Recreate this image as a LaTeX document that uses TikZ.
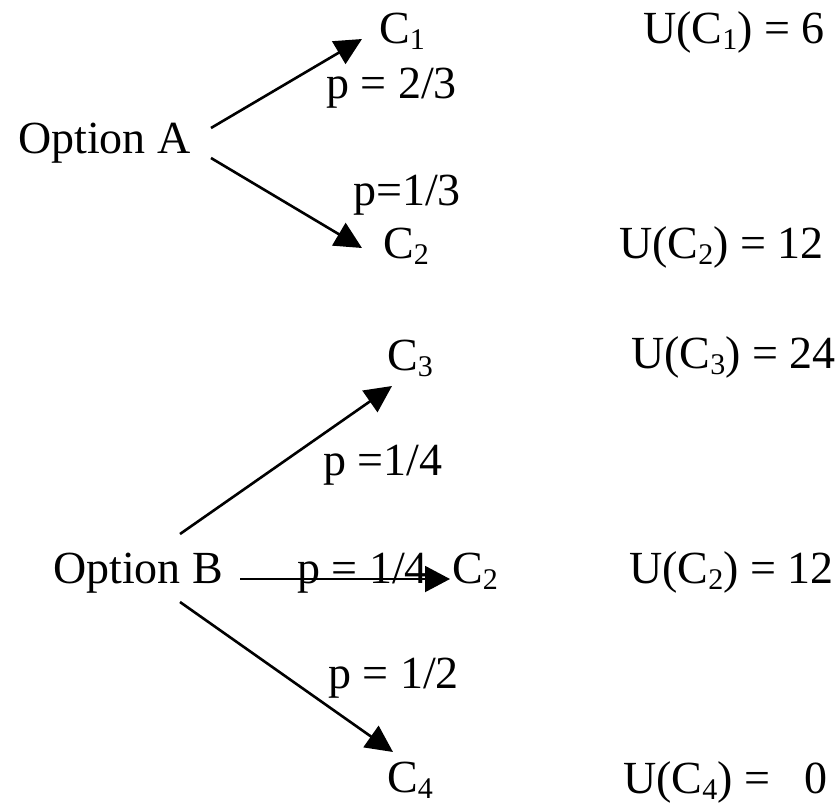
\documentclass[tikz,border=0pt]{standalone}
\usepackage{fontspec}
\setmainfont{Liberation Serif}
\usetikzlibrary{arrows.meta}
\newcommand{\sbs}[1]{\raisebox{-0.15em}{\fontsize{30}{30}\selectfont #1}}
\begin{document}
\begin{tikzpicture}[x=1pt,y=-1pt,
  txt/.style={anchor=base west, inner sep=0pt, font=\fontsize{46}{50}\selectfont},
  arr/.style={line width=2.6pt, -{Triangle[length=27pt,width=26pt]}}]
\useasboundingbox (0,0) rectangle (837,806);
% Option A
\node[txt] (optA) at (18,153) {Option A};
\node[txt] (c1) at (379,43) {C\sbs{1}};
\node[txt] (pA1) at (326,98) {p = 2/3};
\node[txt] (pA2) at (353,205) {p=1/3};
\node[txt] (c2a) at (383,258) {C\sbs{2}};
\node[txt] (u1) at (643,43) {U(C\sbs{1}) = 6};
\node[txt] (u2a) at (619,258) {U(C\sbs{2}) = 12};
\coordinate (a1s) at (211,128);
\coordinate (a1e) at (362,39);
\coordinate (a2s) at (211,158);
\coordinate (a2e) at (362,248);
\draw[arr] (a1s) -- (a1e);
\draw[arr] (a2s) -- (a2e);
% Option B
\node[txt] (optB) at (53,583) {Option B};
\node[txt] (c3) at (387,370) {C\sbs{3}};
\node[txt] (pB1) at (323,475) {p =1/4};
\node[txt] (pB2) at (297,583) {p = 1/4};
\node[txt] (c2b) at (452,583) {C\sbs{2}};
\node[txt] (pB3) at (328,688) {p = 1/2};
\node[txt] (c4) at (387,792) {C\sbs{4}};
\node[txt] (u3) at (631,368) {U(C\sbs{3}) = 24};
\node[txt] (u2b) at (629,583) {U(C\sbs{2}) = 12};
\node[txt] (u4) at (623,793) {U(C\sbs{4}) =~~~0};
\coordinate (b1s) at (180,534);
\coordinate (b1e) at (392,386);
\coordinate (b2s) at (240,579);
\coordinate (b2e) at (450,579);
\coordinate (b3s) at (180,602);
\coordinate (b3e) at (393,752);
\draw[arr] (b1s) -- (b1e);
\draw[line width=2pt, -{Triangle[length=25pt,width=26pt]}] (b2s) -- (b2e);
\draw[arr] (b3s) -- (b3e);
\end{tikzpicture}
\end{document}
